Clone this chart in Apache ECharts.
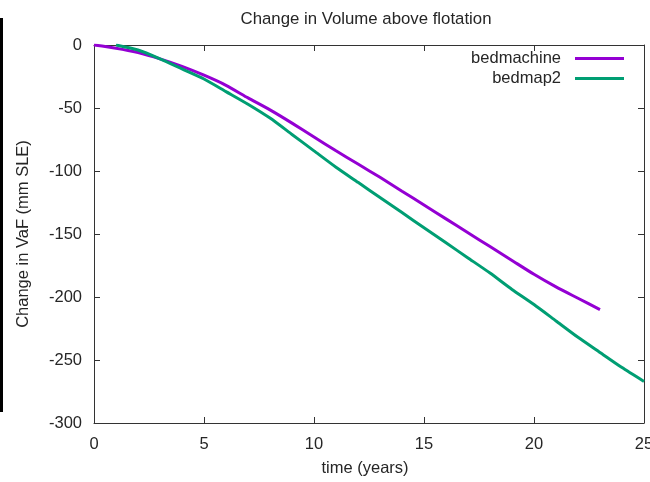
<!DOCTYPE html>
<html>
<head>
<meta charset="utf-8">
<script src="https://cdn.jsdelivr.net/npm/echarts@6/dist/echarts.min.js"></script>
<style>html,body{margin:0;padding:0;background:#fff;overflow:hidden;}#chart{width:650px;height:482px;}</style>
</head>
<body>
<div id="chart"></div>
<script>
const titleText = 'Change in Volume above flotation';
const xName = 'time (years)';
const yName = 'Change in VaF (mm SLE)';
const seriesNames = ['bedmachine', 'bedmap2'];
const bedmachineT = [0, 1, 2, 3, 4, 5, 6, 7, 8, 9, 10, 11, 12, 13, 14, 15, 16, 17, 18, 19, 20, 21, 22, 23];
const bedmachineV = [0, -2.5, -6, -11, -17, -24, -32, -42, -51.5, -62, -73, -84, -94.5, -105, -116, -127, -138, -149, -160, -171, -182, -192, -201, -210];
const bedmap2T = [1, 2, 3, 4, 5, 6, 7, 8, 9, 10, 11, 12, 13, 14, 15, 16, 17, 18, 19, 20, 21, 22, 23, 24, 25];
const bedmap2V = [0, -4, -11, -19, -27, -37, -47, -58, -71, -84, -97, -109, -121, -133, -145, -157, -169, -181, -194, -206, -219, -232, -244, -256, -267];

const FONT = 'Liberation Sans, Arial, sans-serif';
const TXT = '#262626';
const AX = '#333';
const FS = 16.5;

const chart = echarts.init(document.getElementById('chart'), null, {width: 650, height: 482});
function xAx(pos, showLabel) {
  return {
    type: 'value', position: pos, min: 0, max: 25, interval: 5,
    name: showLabel ? xName : '', nameLocation: 'middle', nameGap: 37,
    nameTextStyle: {color: TXT, fontSize: FS, fontFamily: FONT, padding: [0, 8, 0, 0]},
    axisLine: {show: true, onZero: false, lineStyle: {color: AX, width: 1}},
    axisTick: {show: true, inside: true, length: 6, lineStyle: {color: AX}},
    axisLabel: {show: showLabel, margin: 13, color: TXT, fontSize: FS, fontFamily: FONT, hideOverlap: false},
    splitLine: {show: false}
  };
}
function yAx(pos, showLabel) {
  return {
    type: 'value', position: pos, min: -300, max: 0, interval: 50,
    name: showLabel ? yName : '', nameLocation: 'middle', nameGap: 62, nameRotate: 90,
    nameTextStyle: {color: TXT, fontSize: FS, fontFamily: FONT},
    axisLine: {show: true, onZero: false, lineStyle: {color: AX, width: 1}},
    axisTick: {show: true, inside: true, length: 6, lineStyle: {color: AX}},
    axisLabel: {show: showLabel, margin: 12, color: TXT, fontSize: FS, fontFamily: FONT},
    splitLine: {show: false}
  };
}
function legendFor(name, top) {
  return {
    data: [name], right: 26, top: top, align: 'right', orient: 'vertical',
    icon: 'rect', itemWidth: 49, itemHeight: 3, padding: 0,
    selectedMode: false,
    textStyle: {color: TXT, fontSize: FS, fontFamily: FONT, padding: [0, 9, 0, 0]}
  };
}
chart.setOption({
  animation: false,
  backgroundColor: '#fff',
  title: {
    text: titleText, left: 361, top: 6, textAlign: 'center',
    textStyle: {color: TXT, fontSize: 16.8, fontWeight: 'normal', fontFamily: FONT}
  },
  grid: {left: 94, right: 6, top: 45, bottom: 59, containLabel: false, outerBoundsMode: 'none'},
  xAxis: [xAx('bottom', true), xAx('top', false)],
  yAxis: [yAx('left', true), yAx('right', false)],
  legend: [legendFor(seriesNames[0], 50), legendFor(seriesNames[1], 70)],
  graphic: [{type: 'rect', left: 0, top: 18, shape: {width: 3, height: 394}, style: {fill: '#000'}}],
  series: [
    {name: seriesNames[0], type: 'line', xAxisIndex: 0, yAxisIndex: 0, showSymbol: false, smooth: 0.2,
     color: '#9400D3', lineStyle: {width: 3, color: '#9400D3'},
     data: bedmachineT.map((t, i) => [t, bedmachineV[i]])},
    {name: seriesNames[1], type: 'line', xAxisIndex: 0, yAxisIndex: 0, showSymbol: false, smooth: 0.2,
     color: '#009E73', lineStyle: {width: 3, color: '#009E73'},
     data: bedmap2T.map((t, i) => [t, bedmap2V[i]])}
  ]
});
</script>
</body>
</html>
